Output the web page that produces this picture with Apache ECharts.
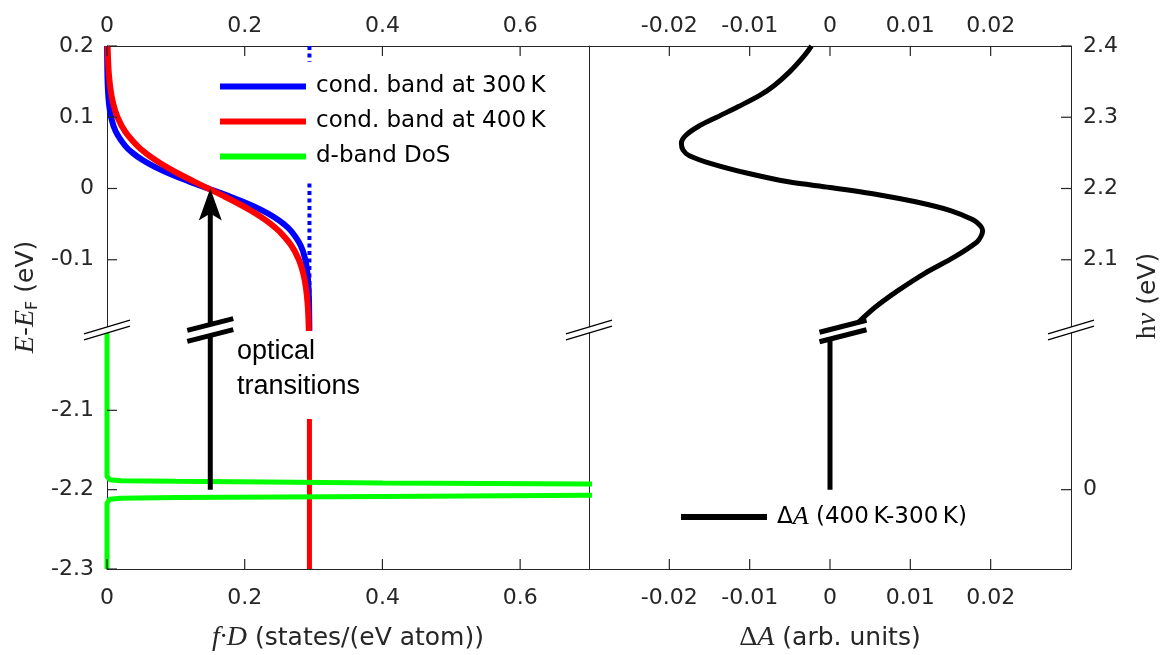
<!DOCTYPE html>
<html>
<head>
<meta charset="utf-8">
<script src="https://cdn.jsdelivr.net/npm/echarts@6/dist/echarts.min.js"></script>
<style>
  html, body { margin: 0; padding: 0; background: #fff; }
  #chart { width: 1167px; height: 655px; }
</style>
</head>
<body>
<div id="chart"></div>
<script>
// ---- Conduction band: occupied states f·D versus E - E_F (upper left section)
const energyCB = [0.2, 0.18, 0.16, 0.14, 0.12, 0.1, 0.08, 0.06, 0.05, 0.04, 0.03, 0.02, 0.01, 0,
  -0.01, -0.02, -0.03, -0.04, -0.05, -0.06, -0.08, -0.1, -0.12, -0.14, -0.16, -0.18, -0.2];
const fd300 = [0.0001, 0.0003, 0.0006, 0.0013, 0.0028, 0.0060, 0.0127, 0.0263, 0.0371, 0.0516, 0.0701, 0.0928, 0.1189, 0.147,
  0.1751, 0.2012, 0.2239, 0.2424, 0.2569, 0.2677, 0.2813, 0.2880, 0.2912, 0.2927, 0.2934, 0.2937, 0.2939];
const fd400 = [0.0009, 0.0016, 0.0028, 0.0050, 0.0088, 0.0153, 0.0263, 0.0439, 0.0558, 0.0702, 0.0868, 0.1055, 0.1258, 0.147,
  0.1682, 0.1885, 0.2072, 0.2238, 0.2382, 0.2501, 0.2677, 0.2787, 0.2852, 0.2890, 0.2912, 0.2924, 0.2931];

// Conduction band DoS level (dotted, upper) and its continuation (solid, lower)
const dosCB = 0.294;
const dosCBEnergyTop = [0.2, 0.178, null, 0.007, -0.2];
const dosCBEnergyLow = [-2.111, -2.3];

// ---- d-band DoS (lower left section)
const energyD = [-2.0, -2.183, -2.1875, -2.1888, -2.1895, -2.1915, -2.193, -2.197, -2.2,
  -2.203, -2.207, -2.2085, -2.21, -2.2107, -2.212, -2.217, -2.3];
const dosD = [0, 0, 0.004, 0.02, 0.1, 0.4, 0.7, 2, 60,
  2, 0.7, 0.4, 0.1, 0.02, 0.004, 0, 0];

// ---- Optical transition arrow
const arrowX = 0.15;
const arrowFrom = -2.2;
const arrowTo = 0;

// ---- Differential absorbance ΔA versus photon energy (right panel)
const hnu = [2.4, 2.385, 2.364, 2.345, 2.331, 2.315, 2.3, 2.287, 2.275, 2.264, 2.254, 2.246, 2.235, 2.221, 2.209, 2.2015,
  2.191, 2.181, 2.169, 2.156, 2.148, 2.141, 2.133, 2.125, 2.104, 2.081, 2.057, 2.034, 2.013];
const deltaA = [-0.0023, -0.0033, -0.0050, -0.0069, -0.0087, -0.0114, -0.0141, -0.0164, -0.0179, -0.0185, -0.0183, -0.0175, -0.0148, -0.0101, -0.0050, 0.0,
  0.0062, 0.0108, 0.0150, 0.0178, 0.0187, 0.0190, 0.0188, 0.0183, 0.0155, 0.0118, 0.0085, 0.0057, 0.0036];
const hnuLow = [0.19, 0];
const deltaALow = [0, 0];

// ---- Axis ranges and tick values
const fdRange = [0, 0.7];
const eTopRange = [-0.2, 0.2];
const eLowRange = [-2.3, -2.0];
const dARange = [-0.03, 0.03];
const hnuTopRange = [2.0, 2.4];
const hnuLowRange = [-0.1, 0.2];
const fdTicks = [0, 0.2, 0.4, 0.6];
const eTopTicks = [-0.1, 0, 0.1, 0.2];
const eLowTicks = [-2.3, -2.2, -2.1];
const dATicks = [-0.02, -0.01, 0, 0.01, 0.02];
const hnuTopTicks = [2.1, 2.2, 2.3, 2.4];
const hnuLowTicks = [0];

const AXIS = '#262626';
const SANS = 'DejaVu Sans';
const SERIF = 'Liberation Serif';
const TICK_LEN = 10;

const zip = (xs, ys) => xs.map((x, i) => [x, ys[i] === null ? '-' : ys[i]]);
const fill = (v, ys) => ys.map(y => [v, y === null ? '-' : y]);

function axis(opts) {
  const showLabels = opts.ticks !== undefined;
  return {
    type: 'value',
    gridIndex: opts.grid,
    position: opts.position,
    min: opts.range[0],
    max: opts.range[1],
    interval: opts.interval,
    axisLine: { show: true, onZero: false, lineStyle: { color: AXIS, width: 1 } },
    axisTick: { show: false },
    axisLabel: showLabels
      ? {
          show: true, customValues: opts.ticks, margin: opts.margin,
          color: AXIS, fontFamily: SANS, fontSize: 22,
          padding: opts.padding || 0
        }
      : { show: false },
    splitLine: { show: false }
  };
}

const grids = [
  { left: 107, top: 46, width: 482, height: 285 },
  { left: 107, top: 331, width: 482, height: 238 },
  { left: 589, top: 46, width: 482, height: 285 },
  { left: 589, top: 331, width: 482, height: 238 }
].map(g => Object.assign({ containLabel: false, outerBoundsMode: 'none' }, g));

const xAxes = [
  axis({ grid: 0, position: 'top', range: fdRange, interval: 0.2, ticks: fdTicks, margin: 9 }),
  axis({ grid: 1, position: 'bottom', range: fdRange, interval: 0.2, ticks: fdTicks, margin: 18 }),
  axis({ grid: 2, position: 'top', range: dARange, interval: 0.01, ticks: dATicks, margin: 9 }),
  axis({ grid: 3, position: 'bottom', range: dARange, interval: 0.01, ticks: dATicks, margin: 18 })
];
const yAxes = [
  axis({ grid: 0, position: 'left', range: eTopRange, interval: 0.1, ticks: eTopTicks, margin: 13, padding: [8, 0, 0, 0] }),
  axis({ grid: 1, position: 'left', range: eLowRange, interval: 0.1, ticks: eLowTicks, margin: 13, padding: [8, 0, 0, 0] }),
  axis({ grid: 2, position: 'right', range: hnuTopRange, interval: 0.1, ticks: hnuTopTicks, margin: 12, padding: [8, 0, 0, 0] }),
  axis({ grid: 3, position: 'right', range: hnuLowRange, interval: 0.1, ticks: hnuLowTicks, margin: 12, padding: [8, 0, 0, 0] }),
  axis({ grid: 2, position: 'left', range: hnuTopRange, interval: 0.1 }),
  axis({ grid: 3, position: 'left', range: hnuLowRange, interval: 0.1 })
];

function line(name, xi, yi, data, color, width, extra) {
  return Object.assign({
    type: 'line', name, xAxisIndex: xi, yAxisIndex: yi, data,
    showSymbol: false, symbol: 'none', clip: true, animation: false,
    lineStyle: { color, width, cap: 'butt' },
    itemStyle: { color },
    emphasis: { disabled: true }
  }, extra || {});
}

const legendTextStyle = { color: '#000', fontFamily: SANS, fontSize: 23, lineHeight: 35, padding: [0, 0, 0, 5] };

const option = {
  backgroundColor: '#fff',
  animation: false,
  grid: grids,
  xAxis: xAxes,
  yAxis: yAxes,
  legend: [
    {
      data: ['cond. band at 300\u2009K', 'cond. band at 400\u2009K', 'd-band DoS'],
      orient: 'vertical', left: 220, top: 69, padding: 0, itemGap: 0,
      icon: 'rect', itemWidth: 86, itemHeight: 6,
      selectedMode: false,
      textStyle: legendTextStyle
    },
    {
      data: ['\u0394A (400\u2009K-300\u2009K)'],
      orient: 'vertical', left: 681, top: 502, padding: 0,
      icon: 'rect', itemWidth: 86, itemHeight: 6,
      selectedMode: false,
      formatter: () => '{n|\u0394}{a|A}{n| (400\u2009K-300\u2009K)}',
      textStyle: {
        color: '#000', fontFamily: SANS, fontSize: 23, lineHeight: 30, padding: [0, 0, 0, 5],
        rich: {
          n: { color: '#000', fontFamily: SANS, fontSize: 23, lineHeight: 30 },
          a: { color: '#000', fontFamily: SERIF, fontStyle: 'italic', fontSize: 26, lineHeight: 30 }
        }
      }
    }
  ],
  series: [
    line('D 300 K', 0, 0, fill(dosCB, dosCBEnergyTop), '#0000ff', 4,
      { lineStyle: { color: '#0000ff', width: 4, type: [4, 3.5], cap: 'butt' }, connectNulls: false }),
    line('cond. band at 300\u2009K', 0, 0, zip(fd300, energyCB), '#0000ff', 6, { smooth: 0.4 }),
    line('cond. band at 400\u2009K', 0, 0, zip(fd400, energyCB), '#ff0000', 6, { smooth: 0.4 }),
    line('D 400 K', 1, 1, fill(dosCB, dosCBEnergyLow), '#ff0000', 5),
    line('d-band DoS', 1, 1, zip(dosD, energyD), '#00ff00', 5),
    line('transition low', 1, 1, fill(arrowX, [arrowFrom, eLowRange[1]]), '#000', 5),
    line('transition high', 0, 0, fill(arrowX, [eTopRange[0], arrowTo - 0.02]), '#000', 5),
    {
      type: 'scatter', name: 'transition head', xAxisIndex: 0, yAxisIndex: 0,
      data: [[arrowX, arrowTo]],
      symbol: 'path://M11.5,0 L23,32 L11.5,25 L0,32 Z',
      symbolSize: [23, 32], symbolOffset: [0, 16],
      itemStyle: { color: '#000', opacity: 1 },
      emphasis: { disabled: true }, animation: false, z: 3
    },
    line('\u0394A (400\u2009K-300\u2009K)', 2, 2, zip(deltaA, hnu), '#000', 5, { smooth: 0.3 }),
    line('\u0394A low', 3, 3, zip(deltaALow, hnuLow), '#000', 5)
  ]
};

const chart = echarts.init(document.getElementById('chart'), null, { renderer: 'canvas' });
chart.setOption(option);

// ---- Inward tick marks, axis-break marks, annotation and axis titles
const px = (i, v) => chart.convertToPixel({ xAxisIndex: i }, v);
const py = (i, v) => chart.convertToPixel({ yAxisIndex: i }, v);
const yTop = py(0, eTopRange[1]);
const yBottom = py(1, eLowRange[0]);
const xLeft = px(0, fdRange[0]);
const xRight = px(2, dARange[1]);
const yBreak = py(0, eTopRange[0]);

function tickLine(x1, y1, x2, y2) {
  return { type: 'line', z: 30, silent: true, shape: { x1, y1, x2, y2 }, style: { stroke: AXIS, lineWidth: 1.2 } };
}
const ticks = [];
fdTicks.forEach(v => {
  const x = px(0, v);
  ticks.push(tickLine(x, yTop, x, yTop + TICK_LEN));
  ticks.push(tickLine(x, yBottom, x, yBottom - TICK_LEN));
});
dATicks.forEach(v => {
  const x = px(2, v);
  ticks.push(tickLine(x, yTop, x, yTop + TICK_LEN));
  ticks.push(tickLine(x, yBottom, x, yBottom - TICK_LEN));
});
eTopTicks.forEach(v => { const y = py(0, v); ticks.push(tickLine(xLeft, y, xLeft + TICK_LEN, y)); });
eLowTicks.forEach(v => { const y = py(1, v); ticks.push(tickLine(xLeft, y, xLeft + TICK_LEN, y)); });
hnuTopTicks.forEach(v => { const y = py(2, v); ticks.push(tickLine(xRight, y, xRight - TICK_LEN, y)); });
hnuLowTicks.forEach(v => { const y = py(3, v); ticks.push(tickLine(xRight, y, xRight - TICK_LEN, y)); });

function breakMark(cx, cy, w, slope, gap, lw) {
  const h = w / 2, d = slope * h, g = gap / 2;
  return [
    { type: 'polygon', z: 20, silent: true,
      shape: { points: [[cx - h, cy + d - g], [cx + h, cy - d - g], [cx + h, cy - d + g], [cx - h, cy + d + g]] },
      style: { fill: '#fff' } },
    { type: 'line', z: 21, silent: true,
      shape: { x1: cx - h, y1: cy + d - g, x2: cx + h, y2: cy - d - g },
      style: { stroke: '#000', lineWidth: lw } },
    { type: 'line', z: 21, silent: true,
      shape: { x1: cx - h, y1: cy + d + g, x2: cx + h, y2: cy - d + g },
      style: { stroke: '#000', lineWidth: lw } }
  ];
}

const titleRich = {
  n: { fontFamily: SANS, fontSize: 25, lineHeight: 30, fill: AXIS, color: AXIS },
  i: { fontFamily: SERIF, fontStyle: 'italic', fontSize: 28, lineHeight: 30, fill: AXIS, color: AXIS },
  r: { fontFamily: SERIF, fontSize: 28, lineHeight: 30, fill: AXIS, color: AXIS },
  s: { fontFamily: SANS, fontSize: 16, lineHeight: 30, verticalAlign: 'bottom', fill: AXIS, color: AXIS }
};

function title(text, x, y, rotation) {
  return {
    type: 'text', z: 20, silent: true, x, y, rotation,
    style: {
      text, rich: titleRich, fill: AXIS,
      align: 'center', verticalAlign: 'middle', textAlign: 'center', textVerticalAlign: 'middle'
    }
  };
}

const graphics = [].concat(
  ticks,
  breakMark(xLeft, yBreak - 1, 46, 0.3, 6, 1.3),
  breakMark(px(0, fdRange[1]), yBreak - 1, 46, 0.3, 6, 1.3),
  breakMark(xRight, yBreak - 1, 46, 0.3, 6, 1.3),
  breakMark(px(0, arrowX), yBreak - 1, 46, 0.255, 11, 5),
  breakMark(px(2, 0) + 13, yBreak, 47, 0.255, 9.5, 5),
  [
    {
      type: 'text', z: 20, silent: true, x: 237, y: 334,
      style: {
        text: 'optical\ntransitions', fill: '#000',
        fontFamily: 'Liberation Sans', fontSize: 27, lineHeight: 35,
        align: 'left', verticalAlign: 'top', textAlign: 'left', textVerticalAlign: 'top'
      }
    },
    title('{i|E}{n|-}{i|E}{s|F}{n| (eV)}', 26, 297, Math.PI / 2),
    title('{r|h}{i|\u03bd}{n| (eV)}', 1148, 296, Math.PI / 2),
    title('{i|f\u00b7D}{n| (states/(eV atom))}', (px(1, fdRange[0]) + px(1, fdRange[1])) / 2, 638, 0),
    title('{r|\u0394}{i|A}{n| (arb. units)}', (px(3, dARange[0]) + px(3, dARange[1])) / 2, 638, 0)
  ]
);

chart.setOption({ graphic: { elements: graphics } });
</script>
</body>
</html>
